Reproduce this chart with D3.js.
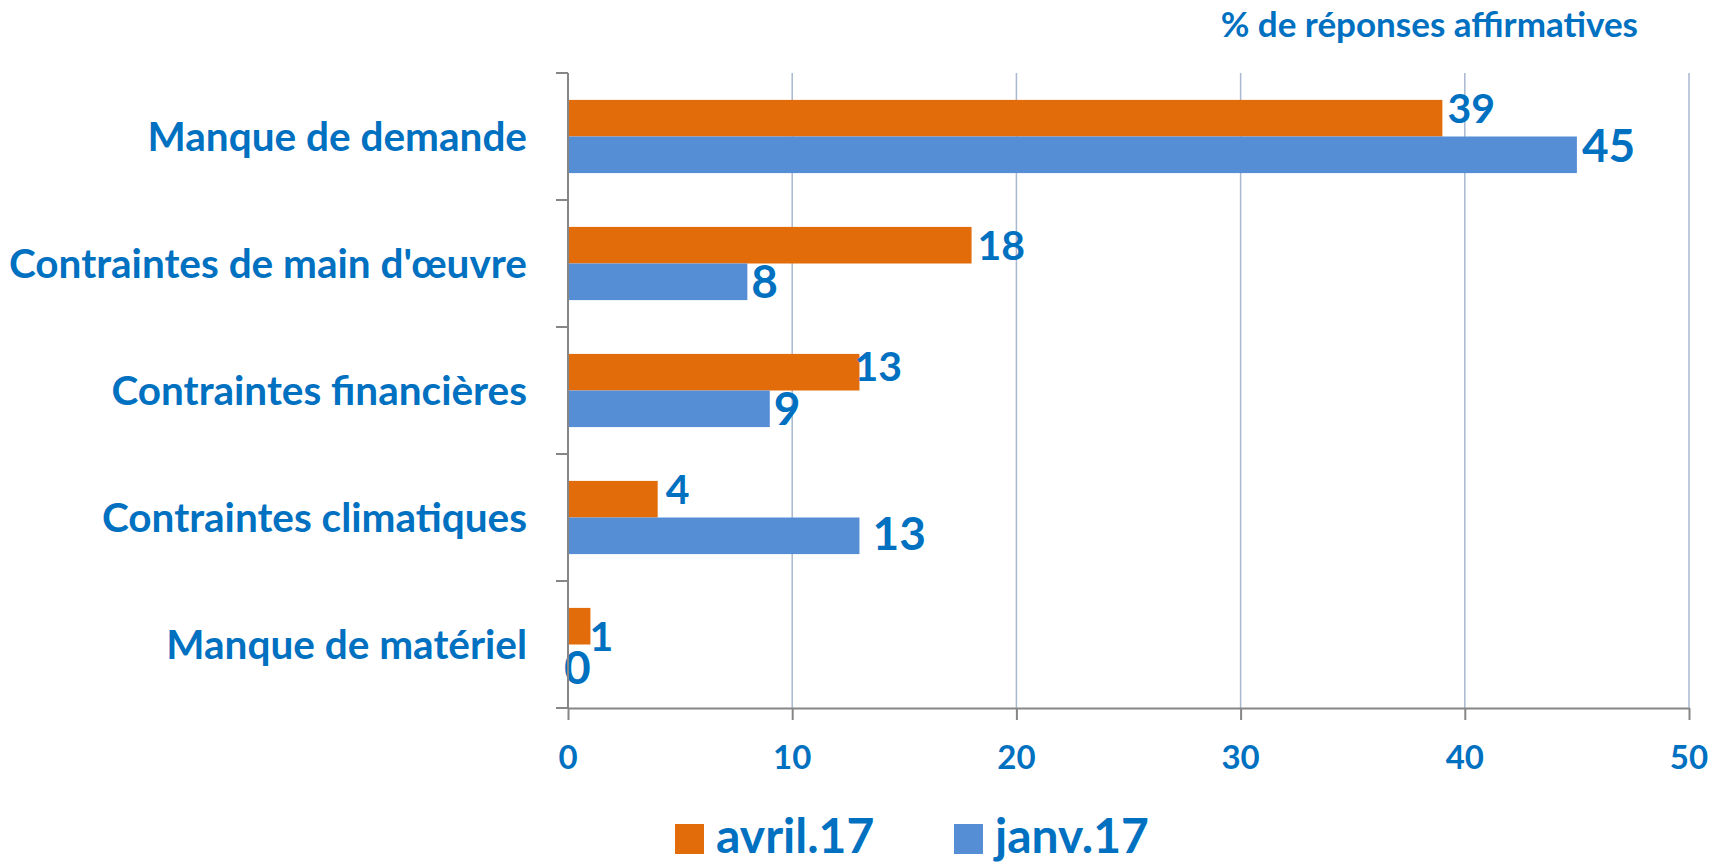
<!DOCTYPE html>
<meta charset="utf-8">
<script src="https://d3js.org/d3.v7.min.js"></script>
<style>
    body { margin: 0; background: #fff; }
    text { font-family: Lato, "Open Sans", sans-serif; font-weight: bold; fill: #0070C0; }
</style>
<body>
<div id="chart"></div>
</body>
<script>
    // data
    const categories = ["Manque de demande", "Contraintes de main d'œuvre", "Contraintes financières",
        "Contraintes climatiques", "Manque de matériel"];
    const seriesNames = ["avril.17", "janv.17"];
    const avril17 = [39, 18, 13, 4, 1];
    const janv17 = [45, 8, 9, 13, 0];
    const xTicks = [0, 10, 20, 30, 40, 50];
    const unitLabel = "% de réponses affirmatives";

    const colours = {"avril.17": "#E36C0A", "janv.17": "#558ED5"};

    // small nudges for the hand-placed data labels [dx, dy]
    const labelNudge = {
        "avril.17": [[0, -10], [1, 0], [-10, -6], [3, -10], [-6, 10]],
        "janv.17": [[0, -9], [-1, 0], [-1, 0], [8, -2], [-9, 5]]
    };

    const W = 1712, H = 864;
    const plot = {left: 568, right: 1689, top: 73, bottom: 708};

    const svg = d3.select("#chart").append("svg")
        .attr("width", W).attr("height", H);

    const x = d3.scaleLinear().domain([0, 50]).range([plot.left, plot.right]);
    const y = d3.scaleBand().domain(categories).range([plot.top, plot.bottom]).padding(0);
    const ySub = d3.scaleBand().domain(seriesNames).range([0, y.bandwidth()])
        .paddingInner(0).paddingOuter(0.735);

    // gridlines
    svg.append("g").selectAll("line")
        .data(xTicks.filter(d => d > 0))
        .join("line")
        .attr("x1", d => x(d)).attr("x2", d => x(d))
        .attr("y1", plot.top).attr("y2", plot.bottom)
        .attr("stroke", "#A9B8D0").attr("stroke-width", 1.5);

    // bars
    const rows = categories.map((c, i) => ({cat: c, i: i, values: [
        {s: "avril.17", v: avril17[i]}, {s: "janv.17", v: janv17[i]}]}));

    const groups = svg.append("g").selectAll("g")
        .data(rows)
        .join("g")
        .attr("transform", d => "translate(0," + y(d.cat) + ")");

    groups.selectAll("rect")
        .data(d => d.values)
        .join("rect")
        .attr("x", x(0))
        .attr("y", d => ySub(d.s))
        .attr("width", d => x(d.v) - x(0))
        .attr("height", ySub.bandwidth())
        .attr("fill", d => colours[d.s]);

    // value labels
    groups.selectAll("text")
        .data(d => d.values.map(v => Object.assign({i: d.i}, v)))
        .join("text")
        .attr("x", d => x(d.v) + 5 + labelNudge[d.s][d.i][0])
        .attr("y", d => ySub(d.s) + ySub.bandwidth() / 2 + labelNudge[d.s][d.i][1])
        .attr("dy", "0.36em")
        .style("font-size", d => d.s === "janv.17" ? "46px" : "41px")
        .text(d => d.v);

    // x axis
    const xAxis = svg.append("g")
        .attr("transform", "translate(0," + plot.bottom + ")")
        .call(d3.axisBottom(x).tickValues(xTicks).tickSize(12).tickSizeOuter(0).tickFormat(""));
    xAxis.select(".domain").attr("stroke", "#868686").attr("stroke-width", 2);
    xAxis.selectAll(".tick line").attr("stroke", "#868686").attr("stroke-width", 2);

    svg.append("g").selectAll("text")
        .data(xTicks)
        .join("text")
        .attr("x", d => x(d))
        .attr("y", 769)
        .attr("text-anchor", "middle")
        .style("font-size", "33px")
        .text(d => d);

    // y axis, ticks on the category boundaries
    const yEdges = categories.map(c => y(c)).concat([plot.bottom]);
    svg.append("line")
        .attr("x1", plot.left).attr("x2", plot.left)
        .attr("y1", plot.top).attr("y2", plot.bottom)
        .attr("stroke", "#868686").attr("stroke-width", 2);
    svg.append("g").selectAll("line")
        .data(yEdges)
        .join("line")
        .attr("x1", plot.left - 12).attr("x2", plot.left)
        .attr("y1", d => d).attr("y2", d => d)
        .attr("stroke", "#868686").attr("stroke-width", 2);

    svg.append("g").selectAll("text")
        .data(categories)
        .join("text")
        .attr("x", 527)
        .attr("y", d => y(d) + y.bandwidth() / 2)
        .attr("dy", "0.36em")
        .attr("text-anchor", "end")
        .style("font-size", "40.5px")
        .text(d => d);

    // unit title
    svg.append("text")
        .attr("x", 1638).attr("y", 37)
        .attr("text-anchor", "end")
        .style("font-size", "35px")
        .text(unitLabel);

    // legend
    const legend = svg.append("g").attr("transform", "translate(675,824)");
    const legendX = [0, 279];
    const item = legend.selectAll("g")
        .data(seriesNames)
        .join("g")
        .attr("transform", (d, i) => "translate(" + legendX[i] + ",0)");
    item.append("rect")
        .attr("width", 29).attr("height", 30)
        .attr("fill", d => colours[d]);
    item.append("text")
        .attr("x", 41).attr("y", 29)
        .style("font-size", "48px")
        .text(d => d);
</script>
</html>
